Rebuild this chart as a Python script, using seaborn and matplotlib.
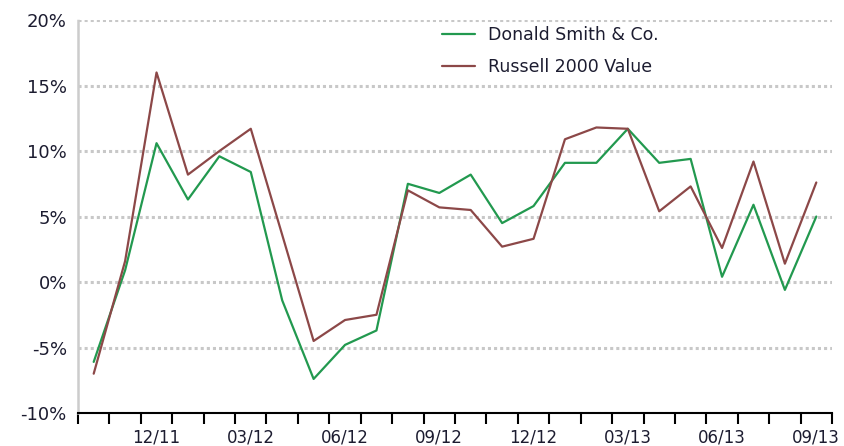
import matplotlib
matplotlib.use("Agg")
import matplotlib.pyplot as plt
import seaborn as sns
import pandas as pd
import numpy as np

months = ["10/11", "11/11", "12/11", "01/12", "02/12", "03/12", "04/12", "05/12",
          "06/12", "07/12", "08/12", "09/12", "10/12", "11/12", "12/12", "01/13",
          "02/13", "03/13", "04/13", "05/13", "06/13", "07/13", "08/13", "09/13"]
donald = [-6.1, 0.9, 10.6, 6.3, 9.6, 8.4, -1.4, -7.4, -4.8, -3.7, 7.5, 6.8,
          8.2, 4.5, 5.8, 9.1, 9.1, 11.7, 9.1, 9.4, 0.4, 5.9, -0.6, 5.0]
russell = [-7.0, 1.6, 16.0, 8.2, 10.0, 11.7, 3.6, -4.5, -2.9, -2.5, 7.0, 5.7,
           5.5, 2.7, 3.3, 10.9, 11.8, 11.7, 5.4, 7.3, 2.6, 9.2, 1.4, 7.6]
series = ["Donald Smith & Co.", "Russell 2000 Value"]
colors = ["#22994f", "#8c4848"]

pos = np.arange(len(months))
df = pd.DataFrame({
    "pos": np.concatenate([pos, pos]),
    "ret": donald + russell,
    "series": [series[0]] * len(months) + [series[1]] * len(months),
})

sns.set_style("white")
plt.rcParams["font.family"] = ["DejaVu Sans"]

fig = plt.figure(figsize=(8.44, 4.46), dpi=100)
ax = fig.add_axes([0.0924, 0.074, 0.8934, 0.881])

sns.lineplot(data=df, x="pos", y="ret", hue="series", palette=colors,
             linewidth=1.6, ax=ax)

ax.set_xlim(-0.5, len(months) - 0.5)
ax.set_ylim(-10, 20)
ax.set_yticks(range(-10, 21, 5))
ax.set_yticklabels([f"{v}%" for v in range(-10, 21, 5)], fontsize=13, color="#1c1c30")
ax.tick_params(axis="y", length=0, pad=8)

# month labels every quarter, tick marks at the month boundaries
lab_idx = list(range(2, len(months), 3))
ax.set_xticks(lab_idx)
ax.set_xticklabels([months[i] for i in lab_idx], fontsize=12, color="#1c1c30")
ax.set_xticks(np.arange(-0.5, len(months)), minor=True)
ax.tick_params(axis="x", which="major", length=0, pad=11)
ax.tick_params(axis="x", which="minor", bottom=True, length=8, width=1.5,
               color="black", direction="out")
ax.set_xlabel("")
ax.set_ylabel("")

ax.grid(axis="y", color="#c8c8c8", linestyle=(0, (1, 1)), linewidth=2.2)
ax.set_axisbelow(True)
for s in ["top", "right"]:
    ax.spines[s].set_visible(False)
ax.spines["left"].set_color("#cccccc")
ax.spines["left"].set_linestyle((0, (1, 1)))
ax.spines["left"].set_linewidth(1.8)
ax.spines["bottom"].set_color("black")
ax.spines["bottom"].set_linewidth(1.5)

leg = ax.legend(loc="upper left", bbox_to_anchor=(0.462, 1.025), frameon=False,
                fontsize=12.5, handlelength=1.9, labelspacing=0.8, handletextpad=0.75)
for t in leg.get_texts():
    t.set_color("#1c1c30")

fig.savefig("out.png", dpi=100)
